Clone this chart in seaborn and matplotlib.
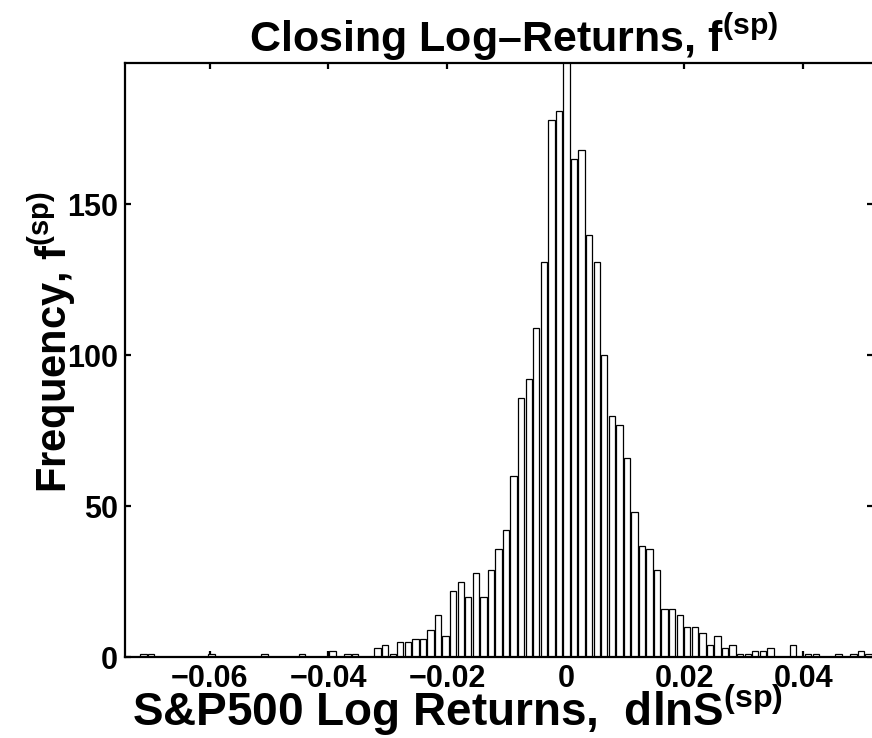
import numpy as np
import pandas as pd
import matplotlib
matplotlib.use("Agg")
import matplotlib.pyplot as plt
from matplotlib import font_manager
import seaborn as sns

# ---------------- data ----------------
first_center = -0.07372     # centre of the first histogram bin
bin_width = 0.001273        # histogram bin width
counts = [
    0, 0, 1, 1, 0, 0, 0, 0, 0, 0, 0, 1, 0, 0, 0, 0, 0, 0, 1, 0,   # k=-58..-39
    0, 0, 0, 1, 0, 0, 0, 2, 0, 1, 1, 0, 0, 3, 4, 1, 5, 5, 6, 6,     # k=-38..-19
    9, 14, 7, 22, 25, 20, 28, 20, 29, 36, 42, 60, 86, 92, 109, 131, # k=-18..-3
    178, 181, 205, 165, 168, 140, 131, 100, 80, 77, 66, 48, 37, 36,  # k=-2..11
    29, 16, 16, 14, 10, 10, 8, 4, 7, 3, 4, 1, 1, 2, 2, 3, 0, 0, 4,   # k=12..30
    0, 1, 1, 0, 0, 1, 0, 1, 2, 1,                                    # k=31..40
]
x_ticks = [-0.06, -0.04, -0.02, 0.0, 0.02, 0.04]
x_tick_labels = ["\u22120.06", "\u22120.04", "\u22120.02", "0", "0.02", "0.04"]
y_ticks = [0, 50, 100, 150]
y_tick_labels = ["0", "50", "100", "150"]
title_text = "Closing Log\u2013Returns, f$^{(sp)}$"
xlabel_text = "S&P500 Log Returns,  dlnS$^{(sp)}$"
ylabel_text = "Frequency, f$^{(sp)}$"

n = len(counts)
centers = first_center + bin_width * np.arange(n)
df = pd.DataFrame({"ret": centers, "freq": counts})

# ---------------- style ----------------
sns.set_theme(style="ticks")
installed = {f.name for f in font_manager.fontManager.ttflist}
narrow = None
for cand in ["Liberation Sans Narrow", "Arial Narrow", "Nimbus Sans Narrow"]:
    if cand in installed:
        narrow = cand
        break
label_font = narrow if narrow else "Liberation Sans"
scale = 1.22 if narrow else 1.0
title_size = 31 * scale
xlabel_size = 33 * scale
ylabel_size = 30 * scale

plt.rcParams["font.family"] = ["Liberation Sans", "DejaVu Sans"]
plt.rcParams["font.weight"] = "bold"
plt.rcParams["mathtext.fontset"] = "custom"
plt.rcParams["mathtext.rm"] = label_font + ":bold"
plt.rcParams["mathtext.it"] = label_font + ":bold"
plt.rcParams["mathtext.bf"] = label_font + ":bold"
plt.rcParams["mathtext.default"] = "rm"

W, H = 872, 738
fig = plt.figure(figsize=(W / 100, H / 100), dpi=100)
fig.patch.set_facecolor("white")
ax_l, ax_r, ax_t, ax_b = 125, 873, 63, 657.3
ax = fig.add_axes([ax_l / W, 1 - ax_b / H, (ax_r - ax_l) / W, (ax_b - ax_t) / H])
ax.set_facecolor("white")

lo = first_center - bin_width / 2
hi = first_center + bin_width * (n - 0.5)
sns.histplot(data=df, x="ret", weights="freq", bins=n, binrange=(lo, hi),
             shrink=0.84, color="white", edgecolor="black", linewidth=0.9,
             alpha=1.0, ax=ax)

ax.set_xlim(-0.0743, 0.05178)
ax.set_ylim(0, 196.8)
ax.set_xticks(x_ticks)
ax.set_xticklabels(x_tick_labels)
ax.set_yticks(y_ticks)
ax.set_yticklabels(y_tick_labels)

for s in ax.spines.values():
    s.set_visible(True)
    s.set_linewidth(1.6)
    s.set_color("black")
    s.set_zorder(5)

ax.tick_params(axis="both", which="major", direction="in", length=4.5,
               width=1.6, color="black", top=True, right=True,
               labelsize=22, labelcolor="black")
ax.tick_params(axis="x", pad=5)
ax.tick_params(axis="y", pad=5)
for lab in ax.get_xticklabels() + ax.get_yticklabels():
    lab.set_fontweight("bold")
    lab.set_family(["Liberation Sans", "DejaVu Sans"])

ax.set_title(title_text, fontsize=title_size, fontweight="bold",
             family=[label_font, "DejaVu Sans"], color="black", x=0.52, pad=8)
ax.set_xlabel(xlabel_text, fontsize=xlabel_size, fontweight="bold",
              family=[label_font, "DejaVu Sans"], color="black")
ax.xaxis.label.set_va("baseline")
ax.xaxis.set_label_coords(0.444, -0.1156)
ax.set_ylabel(ylabel_text, fontsize=ylabel_size, fontweight="bold",
              family=[label_font, "DejaVu Sans"], color="black")
ax.yaxis.label.set_va("baseline")
ax.yaxis.set_label_coords(-0.0775, 0.5305)

fig.savefig("out.png", dpi=100, facecolor="white")
